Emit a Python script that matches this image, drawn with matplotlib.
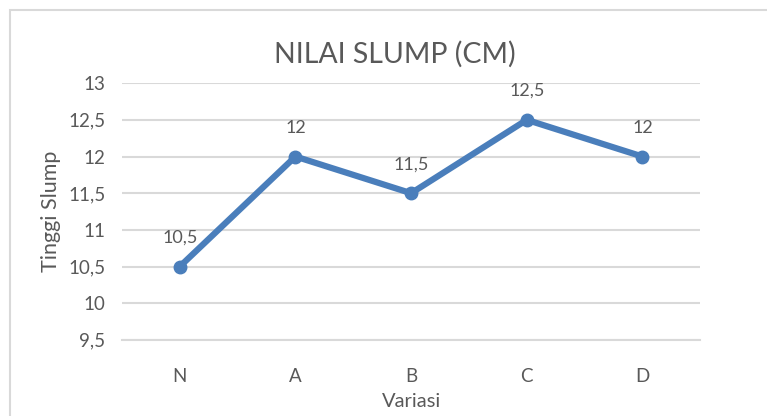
import matplotlib.pyplot as plt
from matplotlib.patches import Rectangle
from matplotlib.ticker import FuncFormatter

# data
variasi = ['N', 'A', 'B', 'C', 'D']
tinggi = [10.5, 12, 11.5, 12.5, 12]
y_ticks = [9.5, 10, 10.5, 11, 11.5, 12, 12.5, 13]

plt.rcParams['font.family'] = ['Lato', 'DejaVu Sans']
teks = '#595959'

fig = plt.figure(figsize=(7.67, 4.16), dpi=100)
ax = fig.add_axes([0.159, 0.183, 0.754, 0.617])

# bingkai luar chart
fig.patches.append(Rectangle((10 / 767, -0.1), 1.2, 1 - 10 / 416 + 0.1,
                             transform=fig.transFigure, fill=False,
                             edgecolor='#d9d9d9', linewidth=1.5))

x = list(range(len(variasi)))
ax.plot(x, tinggi, color='#4a7ebb', linewidth=4.5, marker='o', markersize=9,
        solid_capstyle='round', zorder=3)

def koma(v):
    return ('%g' % v).replace('.', ',')

for xi, yi in zip(x, tinggi):
    ax.annotate(koma(yi), (xi, yi), xytext=(0, 15), textcoords='offset points',
                ha='center', va='bottom', fontsize=13, color=teks)

ax.set_xlim(-0.5, len(variasi) - 0.5)
ax.set_ylim(9.5, 13)
ax.set_yticks(y_ticks)
ax.yaxis.set_major_formatter(FuncFormatter(lambda v, p: koma(v)))
ax.set_xticks(x)
ax.set_xticklabels(variasi)
ax.grid(axis='y', color='#d9d9d9', linewidth=1.5)
ax.set_axisbelow(True)
for s in ['top', 'right', 'left']:
    ax.spines[s].set_visible(False)
ax.spines['bottom'].set_color('#d9d9d9')
ax.spines['bottom'].set_linewidth(1.5)
ax.tick_params(length=0, labelsize=13.5, labelcolor=teks)
ax.tick_params(axis='x', pad=20)
ax.tick_params(axis='y', pad=12)

ax.set_xlabel('Variasi', fontsize=14.5, color=teks, labelpad=6)
ax.set_ylabel('Tinggi Slump', fontsize=15.5, color=teks, labelpad=5)
ax.set_title('NILAI SLUMP (CM)', fontsize=20.5, color=teks, pad=15, x=0.472)

fig.savefig('out.png', dpi=100)
